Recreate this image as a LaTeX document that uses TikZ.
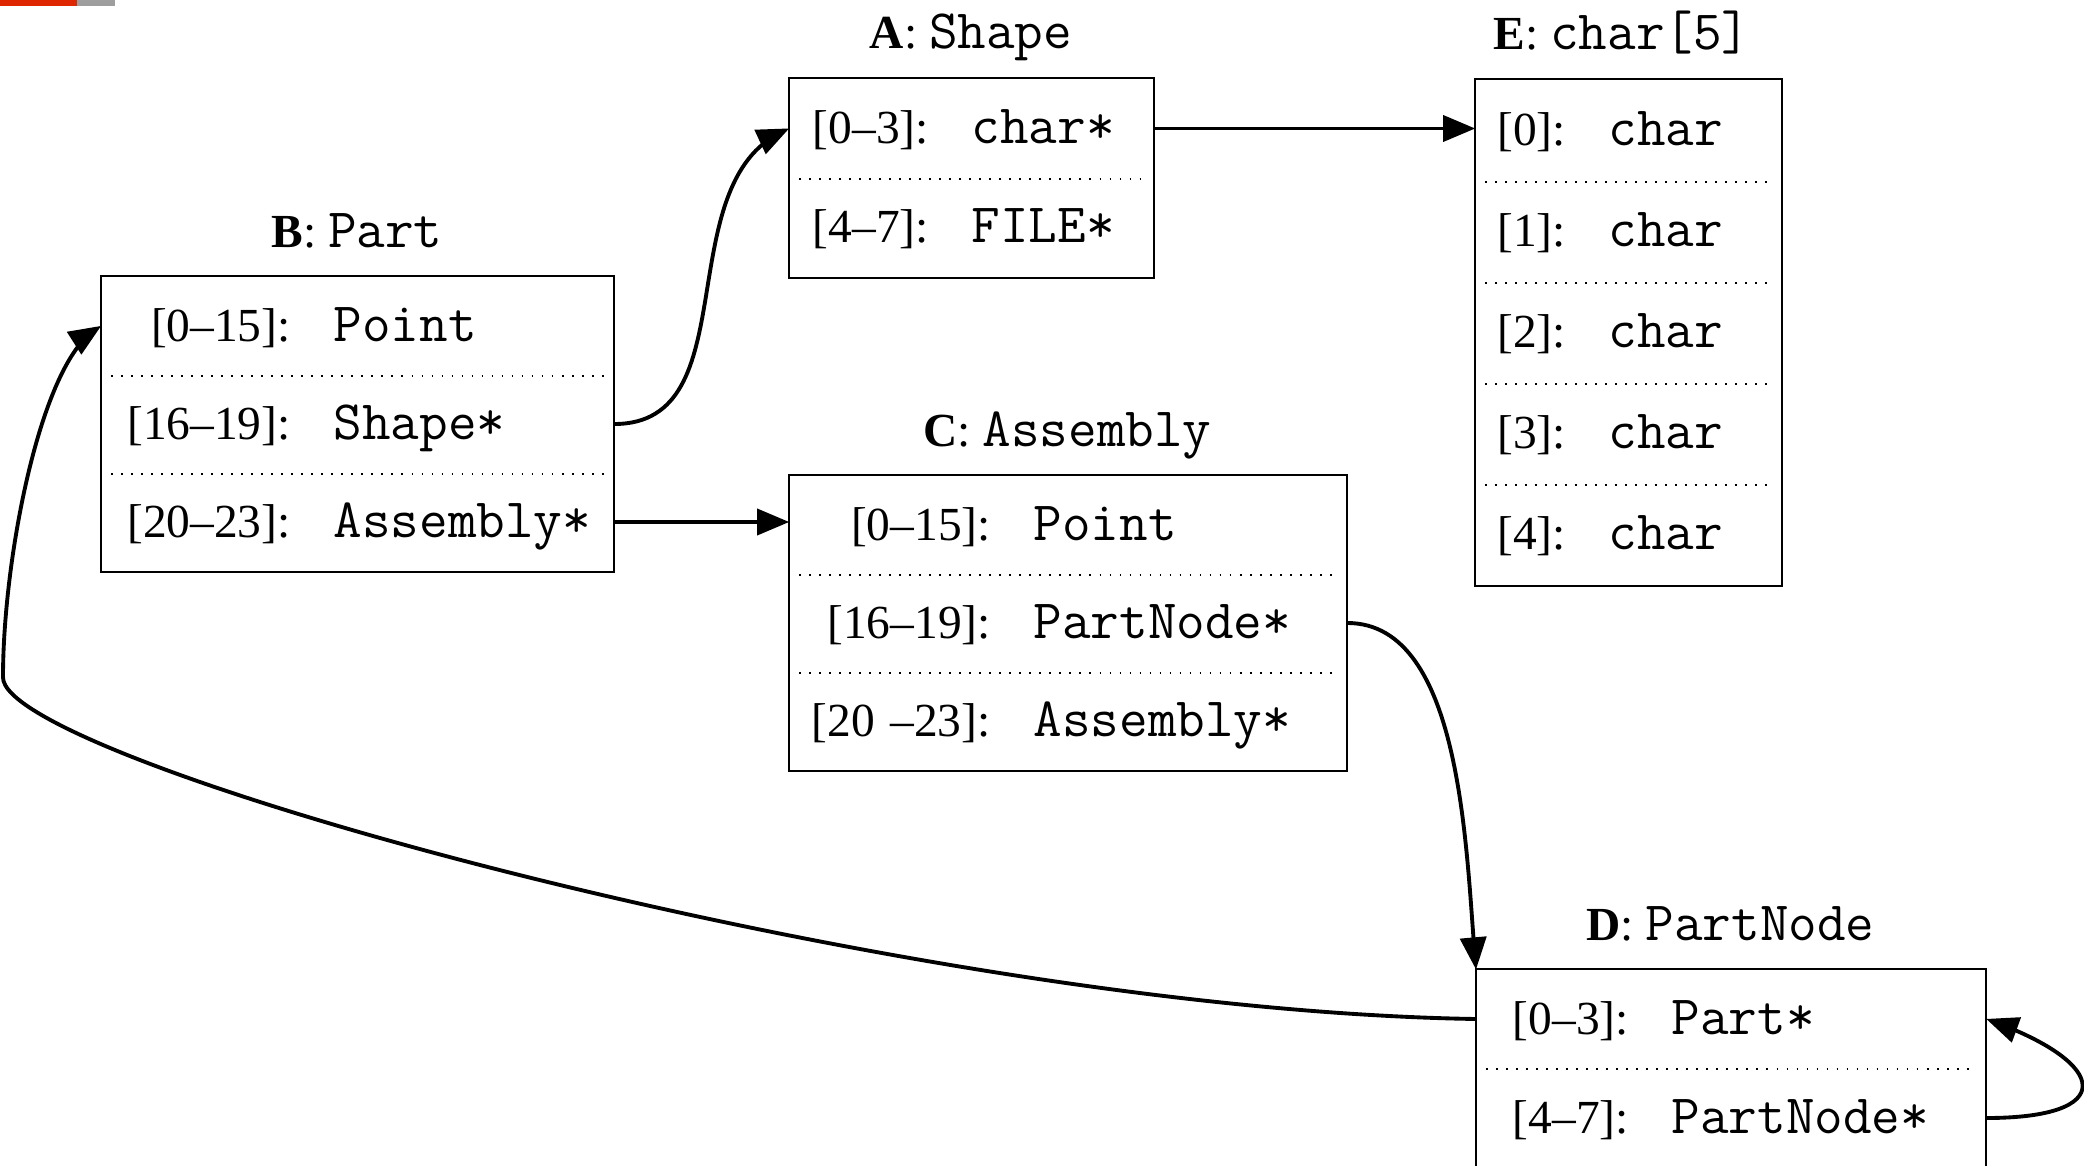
\documentclass[tikz,border=0pt]{standalone}
\usepackage{fontspec}
\setmainfont{Liberation Serif}
\usetikzlibrary{arrows}
\definecolor{barred}{RGB}{222,38,0}
\definecolor{bargray}{RGB}{158,158,158}
\newcommand{\ty}[1]{{\fontsize{15.8}{18}\selectfont\ttfamily #1}}
\newcommand{\fld}[3]{\makebox[#1][r]{#2}\hspace{0.43cm}\ty{#3}}

\begin{document}
\begin{tikzpicture}[>=triangle 45,
  field/.style={anchor=west,inner sep=0pt,minimum height=0.98cm,
    text width=#1,align=left,text height=0.3cm,text depth=0pt,
    font=\fontsize{13.5}{16}\selectfont},
  title node/.style={anchor=base,inner sep=0pt,font=\fontsize{13.5}{16}\selectfont},
  box line/.style={line width=0.55pt},
  dot line/.style={line width=0.5pt,dash pattern=on 0.5pt off 2.35pt,
    shorten <=0.1cm,shorten >=0.1cm},
  link/.style={->,line width=1.1pt}]
  \useasboundingbox (0,0) rectangle (20.84,11.65);
  \fill[barred]  (0,11.65) rectangle (0.77,11.59);
  \fill[bargray] (0.77,11.65) rectangle (1.15,11.59);

  % B: Part
  \node[title node] (tb) at (3.57,9.18) {\textbf{B}: \ty{Part}};
  \node[field=5.12cm] (b0) at (1.01,8.39) {\fld{1.89cm}{[0–15]:}{Point}};
  \node[field=5.12cm] (b1) at (1.01,7.41) {\fld{1.89cm}{[16–19]:}{Shape*}};
  \node[field=5.12cm] (b2) at (1.01,6.43) {\fld{1.89cm}{[20–23]:}{Assembly*}};
  \draw[box line] (b0.north west) rectangle (b2.south east);
  \draw[dot line] (b0.south west) -- (b0.south east);
  \draw[dot line] (b1.south west) -- (b1.south east);

  % A: Shape
  \node[title node] (ta) at (9.71,11.16) {\textbf{A}: \ty{Shape}};
  \node[field=3.64cm,minimum height=0.99cm] (a0) at (7.89,10.365) {\fld{1.39cm}{[0–3]:}{char*}};
  \node[field=3.64cm,minimum height=0.99cm] (a1) at (7.89,9.375)  {\fld{1.39cm}{[4–7]:}{FILE*}};
  \draw[box line] (a0.north west) rectangle (a1.south east);
  \draw[dot line] (a0.south west) -- (a0.south east);

  % E: char[5]
  \node[title node] (te) at (16.22,11.15) {\textbf{E}: \ty{char[5]}};
  \node[field=3.06cm,minimum height=1.01cm] (e0) at (14.75,10.345) {\fld{0.90cm}{[0]:}{char}};
  \node[field=3.06cm,minimum height=1.01cm] (e1) at (14.75,9.335)  {\fld{0.90cm}{[1]:}{char}};
  \node[field=3.06cm,minimum height=1.01cm] (e2) at (14.75,8.325)  {\fld{0.90cm}{[2]:}{char}};
  \node[field=3.06cm,minimum height=1.01cm] (e3) at (14.75,7.315)  {\fld{0.90cm}{[3]:}{char}};
  \node[field=3.06cm,minimum height=1.01cm] (e4) at (14.75,6.305)  {\fld{0.90cm}{[4]:}{char}};
  \draw[box line] (e0.north west) rectangle (e4.south east);
  \draw[dot line] (e0.south west) -- (e0.south east);
  \draw[dot line] (e1.south west) -- (e1.south east);
  \draw[dot line] (e2.south west) -- (e2.south east);
  \draw[dot line] (e3.south west) -- (e3.south east);

  % C: Assembly
  \node[title node] (tc) at (10.675,7.19) {\textbf{C}: \ty{Assembly}};
  \node[field=5.57cm] (c0) at (7.89,6.40) {\fld{2.01cm}{[0–15]:}{Point}};
  \node[field=5.57cm] (c1) at (7.89,5.42) {\fld{2.01cm}{[16–19]:}{PartNode*}};
  \node[field=5.57cm] (c2) at (7.89,4.44) {\fld{2.01cm}{[20 –23]:}{Assembly*}};
  \draw[box line] (c0.north west) rectangle (c2.south east);
  \draw[dot line] (c0.south west) -- (c0.south east);
  \draw[dot line] (c1.south west) -- (c1.south east);

  % D: PartNode
  \node[title node] (td) at (17.305,2.25) {\textbf{D}: \ty{PartNode}};
  \node[field=5.09cm] (d0) at (14.76,1.46) {\fld{1.52cm}{[0–3]:}{Part*}};
  \node[field=5.09cm,minimum height=1.04cm] (d1) at (14.76,0.47) {\fld{1.52cm}{[4–7]:}{PartNode*}};
  \draw[box line] (d0.north west) rectangle (d1.south east);
  \draw[dot line] (d0.south west) -- (d0.south east);

  % pointers
  \draw[link] (b1.east) to[out=0,in=205] (a0.west);
  \draw[link] (a0.east) -- (a0.east -| e0.west);
  \draw[link] (b2.east) -- (b2.east -| c0.west);
  \draw[link] (c1.east) to[out=0,in=95,looseness=0.8] (d0.north west);
  \draw[link] (d0.west) .. controls (9.00,1.55) and (0.00,4.05) .. (0.03,4.88)
    .. controls (0.03,6.05) and (0.40,8.00) .. (b0.west);
  \draw[link] (d1.east) to[out=0,in=-20,looseness=3.4] (d0.east);
\end{tikzpicture}
\end{document}
